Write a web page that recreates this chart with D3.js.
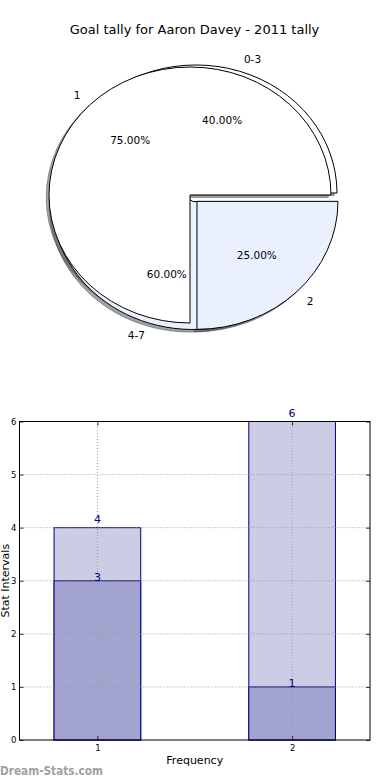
<!DOCTYPE html>
<html><head><meta charset="utf-8">
<script src="https://cdn.jsdelivr.net/npm/d3@7"></script>
<style>body{margin:0;background:#fff}svg{display:block}text{font-family:"DejaVu Sans",sans-serif}</style>
</head><body>
<script>
// ---- data ----
const chartTitle = "Goal tally for Aaron Davey - 2011 tally";
const pieACategories = ["0-3", "4-7"];
const pieAValues = [40, 60];
const pieBCategories = ["1", "2"];
const pieBValues = [75, 25];
const pieColors = ["#ffffff", "#eaf0fc"];
const pieAExplode = [0, 0.07];
const pieBExplode = [0, 0.07];

const barCategories = [1, 2];
const barTotals = [4, 6];
const barParts = [3, 1];
const yTickValues = [0, 1, 2, 3, 4, 5, 6];
const xTickValues = [1, 2];
const xAxisLabel = "Frequency";
const yAxisLabel = "Stat Intervals";
const watermark = "Dream-Stats.com";

// ---- layout ----
const W = 390, H = 780;
const svg = d3.select("body").append("svg").attr("width", W).attr("height", H);

svg.append("text").attr("x", 194.5).attr("y", 34).attr("text-anchor", "middle")
  .attr("font-size", 13).attr("fill", "#000").text(chartTitle);

const rx = 141, ry = 128;
const pieGen = d3.pie().sort(null).startAngle(Math.PI / 2).endAngle(Math.PI / 2 - 2 * Math.PI);
const arcGen = d3.arc().innerRadius(0).outerRadius(1);

function layoutPie(cats, vals, expl, cx, cy) {
  const total = d3.sum(vals);
  return pieGen(vals).map((d, i) => {
    const mid = (d.startAngle + d.endAngle) / 2;
    const ux = Math.sin(mid), uy = -Math.cos(mid);
    return {
      d, i, cat: cats[i], pct: vals[i] / total * 100, ux, uy,
      ox: cx + expl[i] * rx * ux, oy: cy + expl[i] * ry * uy
    };
  });
}
const wedA = layoutPie(pieACategories, pieAValues, pieAExplode, 196, 193);
const wedB = layoutPie(pieBCategories, pieBValues, pieBExplode, 190, 195);
const allWedges = wedA.concat(wedB);

const gShadow = svg.append("g");
allWedges.forEach(w => {
  const c = d3.rgb(pieColors[w.i]);
  const sc = d3.rgb(c.r * 0.3, c.g * 0.3, c.b * 0.3).toString();
  gShadow.append("path")
    .attr("transform", `translate(${w.ox - 0.02 * rx},${w.oy + 0.02 * ry}) scale(${rx},${ry})`)
    .attr("d", arcGen(w.d))
    .attr("fill", sc).attr("fill-opacity", 0.5)
    .attr("stroke", sc).attr("stroke-opacity", 0.5).attr("stroke-width", 1)
    .attr("vector-effect", "non-scaling-stroke");
});
const gWedge = svg.append("g");
allWedges.forEach(w => {
  gWedge.append("path")
    .attr("transform", `translate(${w.ox},${w.oy}) scale(${rx},${ry})`)
    .attr("d", arcGen(w.d))
    .attr("fill", pieColors[w.i])
    .attr("stroke", "#000").attr("stroke-width", 1)
    .attr("stroke-linejoin", "miter")
    .attr("vector-effect", "non-scaling-stroke");
});
const gLab = svg.append("g").attr("font-size", 10.5).attr("fill", "#000");
allWedges.forEach(w => {
  gLab.append("text")
    .attr("x", w.ox + 1.1 * rx * w.ux).attr("y", w.oy + 1.1 * ry * w.uy)
    .attr("dy", "0.36em")
    .attr("text-anchor", w.ux > 0 ? "start" : "end")
    .text(w.cat);
  gLab.append("text")
    .attr("x", w.ox + 0.6 * rx * w.ux).attr("y", w.oy + 0.6 * ry * w.uy)
    .attr("dy", "0.36em").attr("text-anchor", "middle")
    .text(w.pct.toFixed(2) + "%");
});

// ---- bar chart ----
const x = d3.scaleLinear().domain([0.6, 2.4]).range([19.5, 370]);
const y = d3.scaleLinear().domain([0, 6]).range([740, 421.5]);
const bw = 0.445;
const navy = "#000080";

const gBars = svg.append("g");
gBars.selectAll("rect.tot").data(barCategories).join("rect").attr("class", "tot")
  .attr("x", (c) => x(c - bw / 2)).attr("width", (c) => x(c + bw / 2) - x(c - bw / 2))
  .attr("y", (c, i) => y(barTotals[i])).attr("height", (c, i) => y(0) - y(barTotals[i]))
  .attr("fill", "#ccccE5").attr("stroke", navy).attr("stroke-width", 1);
gBars.selectAll("rect.part").data(barCategories).join("rect").attr("class", "part")
  .attr("x", (c) => x(c - bw / 2)).attr("width", (c) => x(c + bw / 2) - x(c - bw / 2))
  .attr("y", (c, i) => y(barParts[i])).attr("height", (c, i) => y(0) - y(barParts[i]))
  .attr("fill", "#a3a3d0").attr("stroke", navy).attr("stroke-width", 1);

// grid
const gGrid = svg.append("g").attr("stroke", "#9a9a9a").attr("stroke-width", 1).attr("stroke-dasharray", "1,2");
gGrid.selectAll("line.h").data(yTickValues.slice(1, -1)).join("line").attr("class", "h")
  .attr("x1", x.range()[0]).attr("x2", x.range()[1]).attr("y1", d => y(d)).attr("y2", d => y(d));
gGrid.selectAll("line.v").data(xTickValues).join("line").attr("class", "v")
  .attr("y1", y.range()[0]).attr("y2", y.range()[1]).attr("x1", d => x(d)).attr("x2", d => x(d));

// value labels
const gVal = svg.append("g").attr("font-size", 11).attr("fill", navy).attr("text-anchor", "middle");
barCategories.forEach((c, i) => {
  gVal.append("text").attr("x", x(c)).attr("y", y(barTotals[i]) - 5).text(barTotals[i]);
  gVal.append("text").attr("x", x(c)).attr("y", y(barParts[i]) + 0.5).text(barParts[i]);
});

// axes
function styleAxis(g) {
  g.select(".domain").remove();
  g.selectAll("text").attr("font-family", "DejaVu Sans").attr("font-size", 8.5).attr("fill", "#000");
  g.selectAll("line").attr("stroke", "#000").attr("stroke-width", 0.8);
}
svg.append("g").attr("transform", `translate(${x.range()[0]},0)`)
  .call(d3.axisLeft(y).tickValues(yTickValues).tickFormat(d3.format("d")).tickSize(-4).tickPadding(3)).call(styleAxis);
svg.append("g").attr("transform", `translate(${x.range()[1]},0)`)
  .call(d3.axisRight(y).tickValues(yTickValues).tickFormat("").tickSize(-4)).call(styleAxis);
svg.append("g").attr("transform", `translate(0,${y.range()[0]})`)
  .call(d3.axisBottom(x).tickValues(xTickValues).tickFormat(d3.format("d")).tickSize(-4).tickPadding(5)).call(styleAxis);
svg.append("g").attr("transform", `translate(0,${y.range()[1]})`)
  .call(d3.axisTop(x).tickValues(xTickValues).tickFormat("").tickSize(-4)).call(styleAxis);

svg.append("rect").attr("x", x.range()[0]).attr("y", y.range()[1])
  .attr("width", x.range()[1] - x.range()[0]).attr("height", y.range()[0] - y.range()[1])
  .attr("fill", "none").attr("stroke", "#000").attr("stroke-width", 1);

svg.append("text").attr("x", (x.range()[0] + x.range()[1]) / 2).attr("y", 764)
  .attr("text-anchor", "middle").attr("font-size", 11).text(xAxisLabel);
svg.append("text").attr("transform", `translate(9,${(y.range()[0] + y.range()[1]) / 2}) rotate(-90)`)
  .attr("text-anchor", "middle").attr("font-size", 11).text(yAxisLabel);

svg.append("text").attr("x", 0).attr("y", 775).attr("font-size", 12).attr("font-weight", "bold")
  .attr("fill", "#a0a0a0").attr("textLength", 103).attr("lengthAdjust", "spacingAndGlyphs").text(watermark);
</script>
</body></html>
